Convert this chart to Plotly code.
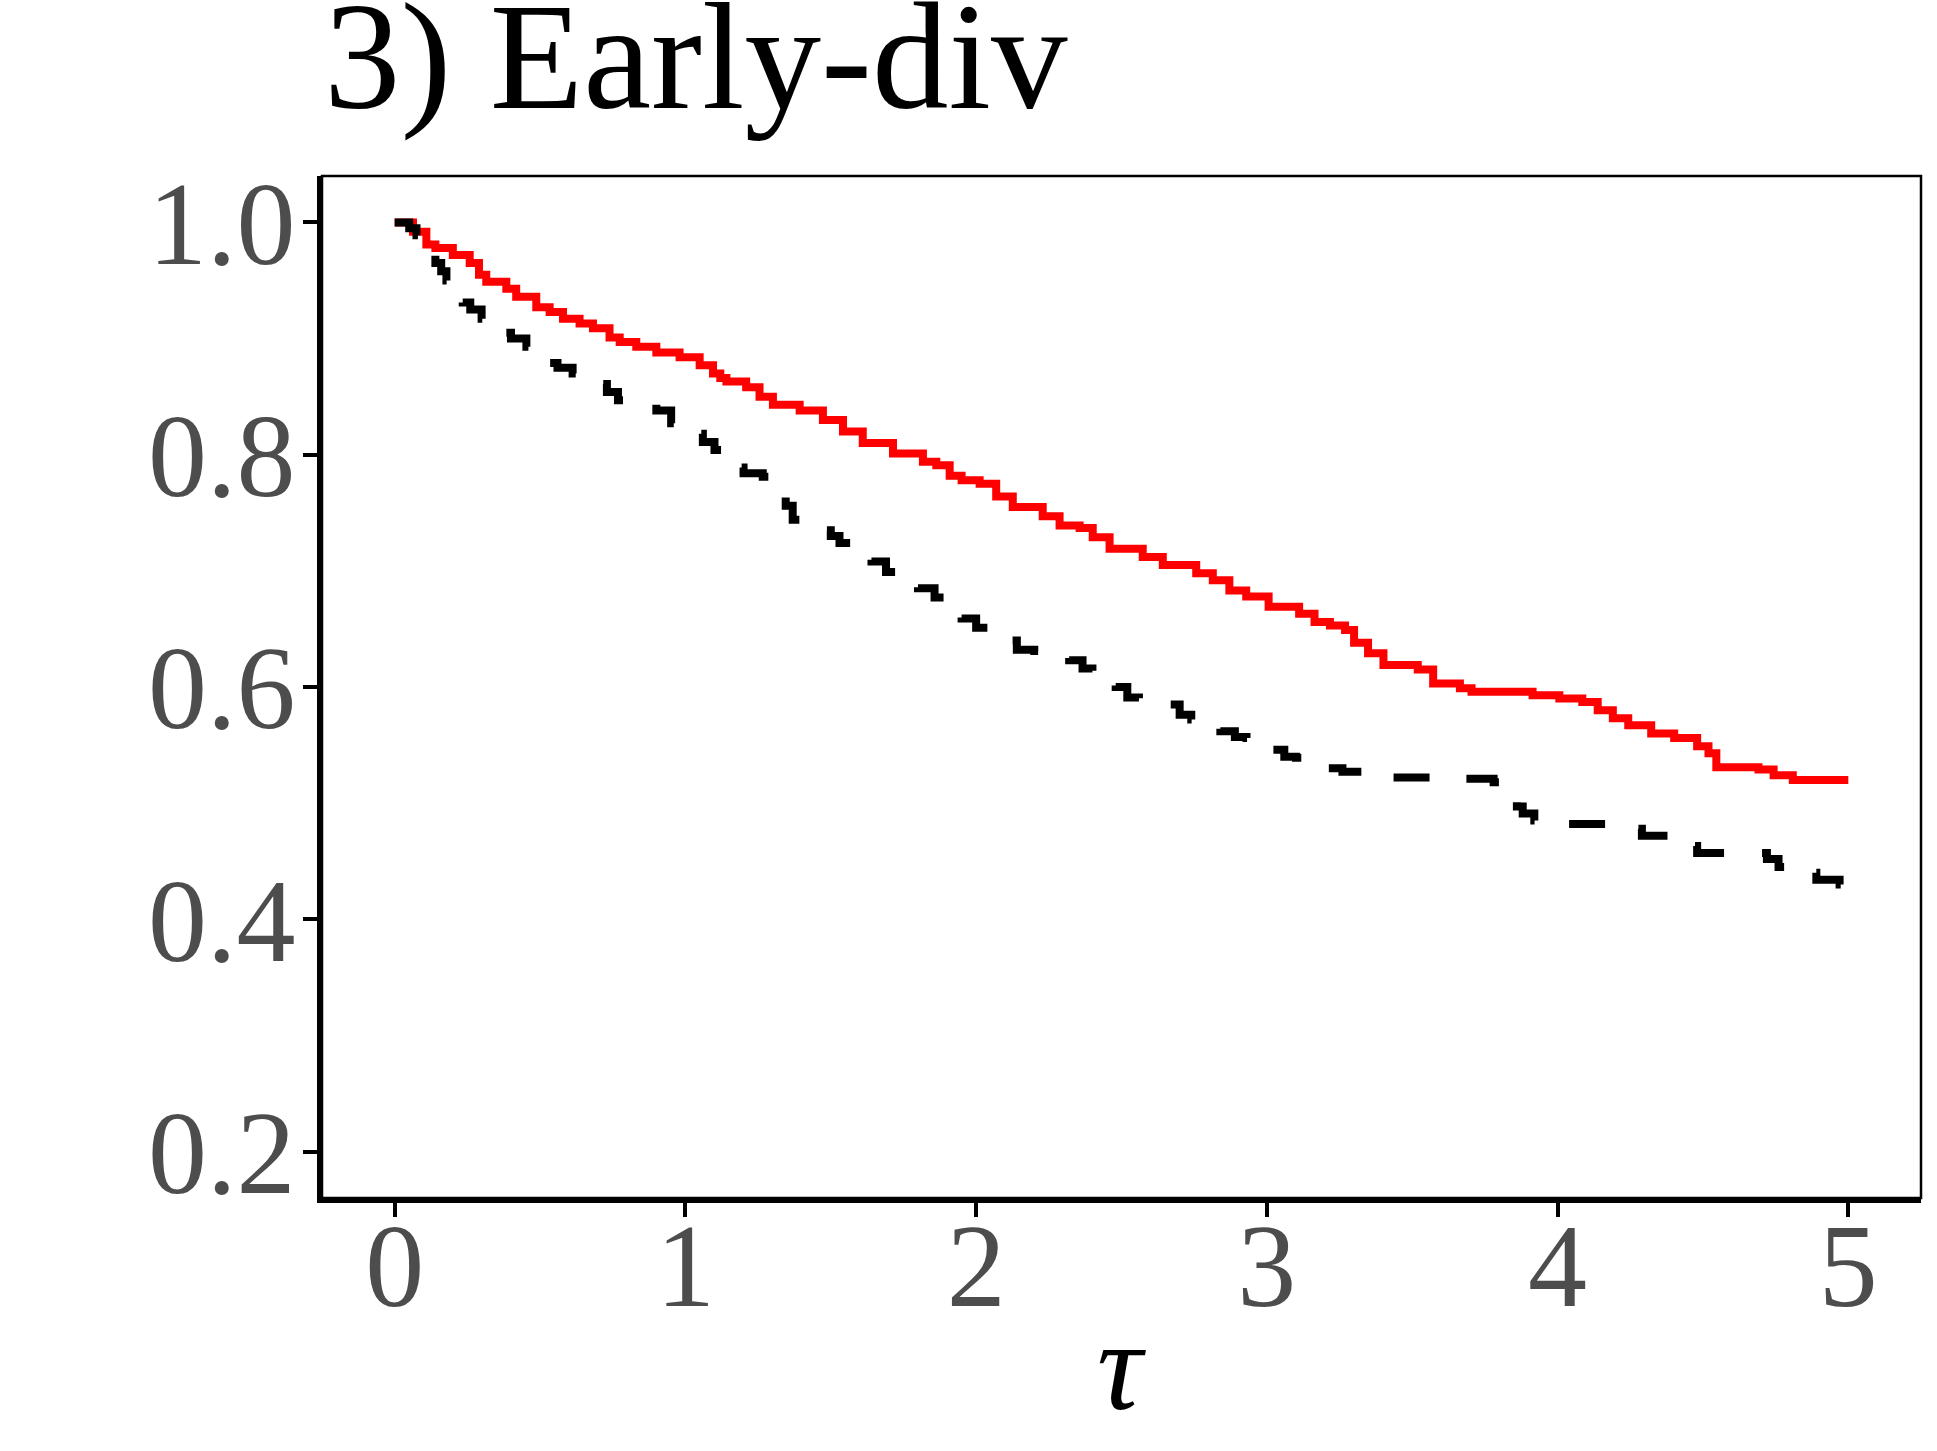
import plotly.graph_objects as go

# Red (solid) survival curve: step times and values
red_t = [0.000, 0.063, 0.109, 0.140, 0.200, 0.258, 0.290, 0.315, 0.384, 0.418,
         0.487, 0.533, 0.579, 0.636, 0.682, 0.739, 0.774, 0.831, 0.900, 0.980,
         1.049, 1.095, 1.120, 1.141, 1.209, 1.255, 1.301, 1.393, 1.473, 1.542,
         1.610, 1.714, 1.817, 1.863, 1.909, 1.950, 2.012, 2.069, 2.126, 2.229,
         2.287, 2.356, 2.401, 2.459, 2.573, 2.642, 2.757, 2.814, 2.871, 2.929,
         3.006, 3.111, 3.164, 3.217, 3.269, 3.300, 3.348, 3.401, 3.519, 3.572,
         3.664, 3.704, 3.914, 4.006, 4.085, 4.138, 4.190, 4.243, 4.322, 4.401,
         4.480, 4.519, 4.546, 4.691, 4.743, 4.809, 5.000]
red_s = [1.000, 0.992, 0.981, 0.978, 0.972, 0.965, 0.955, 0.949, 0.943, 0.936,
         0.927, 0.923, 0.917, 0.913, 0.909, 0.901, 0.897, 0.893, 0.888, 0.884,
         0.877, 0.870, 0.866, 0.863, 0.858, 0.850, 0.843, 0.838, 0.830, 0.820,
         0.810, 0.801, 0.794, 0.791, 0.782, 0.778, 0.775, 0.764, 0.755, 0.747,
         0.739, 0.737, 0.729, 0.719, 0.712, 0.705, 0.698, 0.692, 0.683, 0.678,
         0.669, 0.663, 0.656, 0.653, 0.649, 0.638, 0.629, 0.619, 0.615, 0.603,
         0.599, 0.596, 0.593, 0.590, 0.587, 0.580, 0.573, 0.567, 0.560, 0.556,
         0.549, 0.543, 0.531, 0.529, 0.524, 0.520, 0.520]

# Black (dashed) survival curve
blk_t = [0.000, 0.050, 0.075, 0.120, 0.140, 0.160, 0.178, 0.200, 0.234, 0.260,
         0.299, 0.330, 0.367, 0.400, 0.453, 0.490, 0.522, 0.560, 0.612, 0.660,
         0.699, 0.730, 0.768, 0.820, 0.900, 0.951, 0.990, 1.020, 1.060, 1.100,
         1.130, 1.152, 1.200, 1.266, 1.300, 1.324, 1.345, 1.369, 1.400, 1.450,
         1.500, 1.530, 1.570, 1.605, 1.640, 1.690, 1.730, 1.764, 1.800, 1.857,
         1.890, 1.908, 1.950, 2.000, 2.050, 2.110, 2.140, 2.200, 2.275, 2.320,
         2.366, 2.400, 2.430, 2.480, 2.520, 2.560, 2.640, 2.700, 2.740, 2.780,
         2.840, 2.890, 2.930, 2.970, 3.000, 3.060, 3.100, 3.150, 3.200, 3.260,
         3.350, 3.600, 3.780, 3.800, 3.830, 3.860, 3.880, 3.920, 3.950, 4.260,
         4.290, 4.390, 4.430, 4.480, 4.720, 4.760, 4.870, 4.890, 4.970, 5.000]
blk_s = [1.000, 0.995, 0.989, 0.975, 0.965, 0.958, 0.950, 0.942, 0.931, 0.925,
         0.917, 0.911, 0.905, 0.900, 0.893, 0.886, 0.879, 0.875, 0.870, 0.865,
         0.861, 0.854, 0.847, 0.845, 0.838, 0.827, 0.822, 0.818, 0.811, 0.804,
         0.796, 0.789, 0.784, 0.781, 0.775, 0.767, 0.756, 0.744, 0.740, 0.735,
         0.730, 0.724, 0.720, 0.715, 0.708, 0.699, 0.695, 0.691, 0.685, 0.677,
         0.670, 0.665, 0.659, 0.651, 0.649, 0.640, 0.632, 0.631, 0.630, 0.623,
         0.616, 0.612, 0.608, 0.600, 0.591, 0.590, 0.585, 0.576, 0.572, 0.570,
         0.562, 0.557, 0.556, 0.552, 0.546, 0.540, 0.539, 0.535, 0.530, 0.527,
         0.522, 0.521, 0.518, 0.513, 0.505, 0.497, 0.491, 0.485, 0.482, 0.478,
         0.472, 0.470, 0.463, 0.457, 0.452, 0.445, 0.440, 0.434, 0.430, 0.430]

x_ticks = [0, 1, 2, 3, 4, 5]
x_ticklabels = ["0", "1", "2", "3", "4", "5"]
y_ticks = [0.2, 0.4, 0.6, 0.8, 1.0]
y_ticklabels = ["0.2", "0.4", "0.6", "0.8", "1.0"]
title_text = "3) Early-div"
x_title = "τ"

FONT = "Liberation Serif"

fig = go.Figure()
fig.add_trace(go.Scatter(x=red_t, y=red_s, mode="lines", line_shape="hv",
                         line=dict(color="#FF0000", width=8), showlegend=False))
fig.add_trace(go.Scatter(x=blk_t, y=blk_s, mode="lines", line_shape="hv",
                         line=dict(color="#000000", width=8, dash="36px,38px"),
                         showlegend=False))

fig.update_layout(
    width=1937, height=1451,
    margin=dict(l=322, r=16, t=176, b=253, pad=0),
    paper_bgcolor="white", plot_bgcolor="white",
    font=dict(family=FONT, color="#4D4D4D"),
    showlegend=False,
)
fig.update_xaxes(range=[-0.25, 5.25], tickvals=x_ticks, ticktext=x_ticklabels,
                 showgrid=False, zeroline=False, showline=True, linewidth=5,
                 linecolor="black", ticks="outside", ticklen=14, tickwidth=4,
                 tickcolor="black", ticklabelstandoff=-53,
                 tickfont=dict(family=FONT, size=118, color="#4D4D4D"))
fig.update_yaxes(range=[0.16, 1.04], tickvals=y_ticks, ticktext=y_ticklabels,
                 showgrid=False, zeroline=False, showline=True, linewidth=5,
                 linecolor="black", ticks="outside", ticklen=14, tickwidth=4,
                 tickcolor="black", ticklabelstandoff=-16,
                 tickfont=dict(family=FONT, size=118, color="#4D4D4D"))

# thin panel border (top & right)
fig.add_shape(type="rect", xref="paper", yref="paper", x0=0, x1=1, y0=0, y1=1,
              line=dict(color="black", width=2.5), layer="above")

fig.add_annotation(text=title_text, xref="paper", yref="paper", x=0, y=1.1165,
                   xanchor="left", yanchor="middle", showarrow=False,
                   font=dict(family=FONT, size=153, color="black"))
fig.add_annotation(text="<i>" + x_title + "</i>", xref="paper", yref="paper",
                   x=0.5, y=-0.165, xanchor="center", yanchor="middle",
                   showarrow=False, font=dict(family=FONT, size=126, color="black"))

fig.write_html("out.html", config={"displayModeBar": False},
               post_script="document.body.style.margin='0';document.body.style.overflow='hidden';")
